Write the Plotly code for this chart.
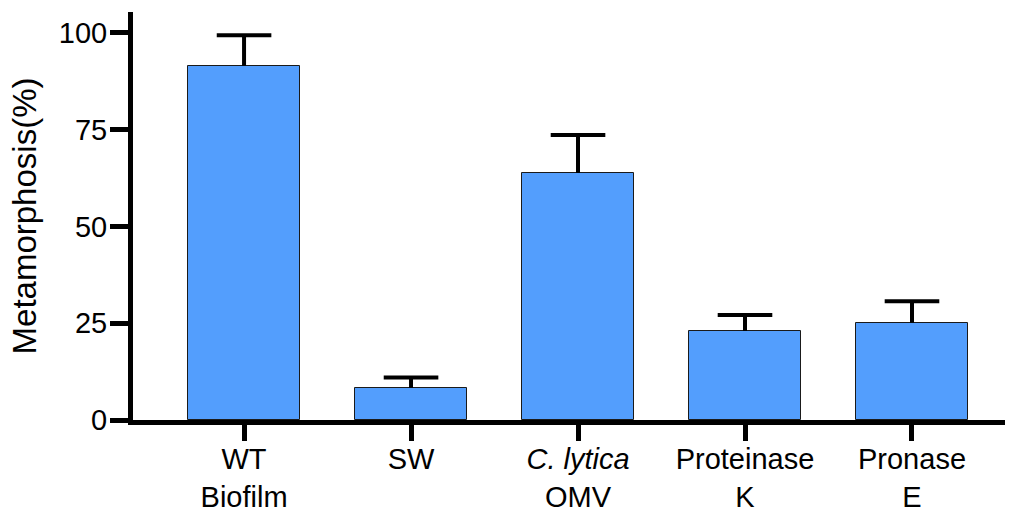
import plotly.graph_objects as go

categories = ["WT<br>Biofilm", "SW", "<i>C. lytica</i><br>OMV", "Proteinase<br>K", "Pronase<br>E"]
values = [91.5, 8.3, 63.8, 23.0, 25.1]
errors = [7.9, 2.7, 9.8, 4.1, 5.6]
y_ticks = [0, 25, 50, 75, 100]

FONT = "Liberation Sans, Arial, sans-serif"
BAR_COLOR = "#539EFD"

fig = go.Figure()
fig.add_trace(go.Bar(
    x=categories, y=values, width=0.67,
    marker=dict(color=BAR_COLOR, line=dict(color="#1a1a1a", width=1)),
    error_y=dict(type="data", array=errors, arrayminus=[0] * len(errors),
                 symmetric=False, width=0, thickness=4, color="black"),
    showlegend=False, hoverinfo="skip",
))
fig.add_trace(go.Scatter(
    x=categories, y=[v + e for v, e in zip(values, errors)],
    mode="markers",
    marker=dict(symbol="line-ew", size=39, color="black",
                line=dict(color="black", width=4)),
    showlegend=False, hoverinfo="skip", cliponaxis=False,
))

fig.update_layout(
    width=1019, height=516,
    margin=dict(l=133, r=14, t=12, b=96, autoexpand=False),
    plot_bgcolor="white", paper_bgcolor="white",
    font=dict(family=FONT, color="black", size=29),
    xaxis=dict(
        type="category", range=[-0.665, 4.557], automargin=False,
        showline=True, linecolor="black", linewidth=5,
        ticks="outside", ticklen=16, tickwidth=5, tickcolor="black",
        ticklabelstandoff=-7,
        tickfont=dict(family=FONT, size=29, color="black"),
        showgrid=False, zeroline=False,
    ),
    yaxis=dict(
        range=[0, 105.4], automargin=False,
        tickvals=y_ticks, ticktext=[str(t) for t in y_ticks],
        showline=True, linecolor="black", linewidth=5,
        ticks="outside", ticklen=18, tickwidth=5, tickcolor="black",
        ticklabelstandoff=-3,
        tickfont=dict(family=FONT, size=29, color="black"),
        showgrid=False, zeroline=False,
        title=dict(text="Metamorphosis(%)", font=dict(family=FONT, size=33, color="black"), standoff=14),
    ),
    bargap=0,
)

fig.write_html("out.html")
